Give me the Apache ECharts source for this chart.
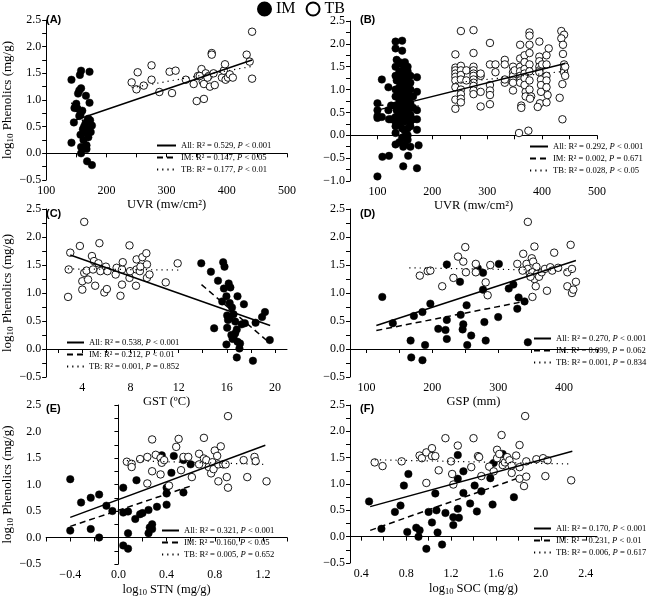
<!DOCTYPE html>
<html><head><meta charset="utf-8">
<script src="https://cdn.jsdelivr.net/npm/echarts@6/dist/echarts.min.js"></script>
<style>html,body{margin:0;padding:0;background:#fff}#c{width:652px;height:598px}</style>
</head><body><div id="c"></div>
<script>
// ---------------- DATA ----------------
const panelLabels = ['(A)','(B)','(C)','(D)','(E)','(F)'];
const xNames = ['UVR (mw/cm²)','UVR (mw/cm²)','GST (ºC)','GSP (mm)','{n|log}{sub|10}{n| STN (mg/g)}','{n|log}{sub|10}{n| SOC (mg/g)}'];
const yName = '{n|log}{sub|10}{n| Phenolics (mg/g)}';

const xRangeA=[100,500], xTicksA=[100,150,200,250,300,350,400,450,500], xLabelsA=[100,200,300,400,500];
const xRangeB=[50,500],  xTicksB=[50,100,150,200,250,300,350,400,450,500], xLabelsB=[100,200,300,400,500];
const xRangeC=[1,21],    xTicksC=[2,4,6,8,10,12,14,16,18,20], xLabelsC=[4,8,12,16,20];
const xRangeD=[75,450],  xTicksD=[100,150,200,250,300,350,400,450], xLabelsD=[100,200,300,400];
const xRangeE=[-0.6,1.4],xTicksE=[-0.6,-0.4,-0.2,0,0.2,0.4,0.6,0.8,1.0,1.2,1.4], xLabelsE=[-0.4,0,0.4,0.8,1.2];
const xRangeF=[0.3,2.5], xTicksF=[0.4,0.6,0.8,1.0,1.2,1.4,1.6,1.8,2.0,2.2,2.4], xLabelsF=[0.4,0.8,1.2,1.6,2.0,2.4];
const yRangeMain=[-0.5,2.5], yTicksMain=[-0.5,-0.25,0,0.25,0.5,0.75,1,1.25,1.5,1.75,2,2.25,2.5], yLabelsMain=[-0.5,0,0.5,1,1.5,2,2.5];
const yRangeB=[-1,2.5], yTicksB=[-1,-0.75,-0.5,-0.25,0,0.25,0.5,0.75,1,1.25,1.5,1.75,2,2.25,2.5], yLabelsB=[-1,-0.5,0,0.5,1,1.5,2,2.5];

const imA=[[142,1.38],[158,1.55],[156,1.47],[172,1.53],[158,1.22],[155,1.18],[153,1.12],[166,1.08],[150,0.93],[172,0.95],[147,0.85],[152,0.84],[160,0.8],[157,0.73],[146,0.58],[170,0.65],[168,0.6],[173,0.62],[163,0.5],[176,0.52],[161,0.45],[168,0.45],[166,0.38],[157,0.35],[174,0.4],[162,0.25],[170,0.3],[158,0.12],[167,0.15],[167,0.08],[158,0.0],[168,-0.15],[176,-0.22],[142,0.2],[165,0.55],[155,0.7]];
const tbA=[[242,1.33],[250,1.2],[252,1.52],[262,1.27],[275,1.65],[275,1.38],[288,1.15],[305,1.53],[309,1.13],[315,1.55],[332,1.38],[345,1.3],[350,0.98],[352,1.45],[358,1.58],[360,1.35],[362,1.3],[362,1.02],[365,1.5],[370,1.45],[372,1.25],[375,1.88],[375,1.85],[378,1.5],[380,1.28],[392,1.42],[395,1.55],[397,1.67],[398,1.38],[402,1.42],[405,1.48],[410,1.42],[433,1.85],[438,1.72],[442,2.28],[442,1.4],[355,1.45],[368,1.42]];
const fitAllA=[[143,0.6],[442,1.75]], fitImA=[[142,0.95],[177,0.32]], fitTbA=[[242,1.23],[442,1.63]];
const r2A=['0.529','0.147','0.177'], pA=['< 0.001','< 0.05','< 0.01'];

const imB=[[100,0.7],[100,0.55],[100,0.42],[100,0.38],[100,-0.9],[108,1.22],[108,0.4],[109,-0.47],[120,1.05],[121,0.35],[121,-0.45],[120,0.55],[125,0.65],[125,0.35],
[133,2.05],[133,1.9],[135,1.65],[133,1.5],[133,1.3],[135,1.2],[133,1.0],[133,0.85],[133,0.65],[135,0.55],[133,0.4],[133,0.2],[133,0.05],[133,-0.2],[133,0.3],
[140,1.6],[140,1.4],[140,1.25],[140,1.05],[140,0.9],[140,0.75],[140,0.6],[140,0.45],[140,0.25],[140,-0.15],[142,1.15],[142,0.8],
[145,2.07],[145,1.85],[145,1.55],[145,1.3],[145,1.2],[145,1.0],[145,0.85],[145,0.7],[145,0.5],[145,0.38],[145,0.15],[145,-0.05],[147,-0.68],[147,-0.25],[148,0.6],[148,0.95],
[150,1.6],[150,1.45],[150,1.35],[150,1.2],[150,1.1],[150,0.95],[150,0.85],[150,0.75],[150,0.65],[150,0.55],[150,0.45],[150,0.3],[150,0.1],[150,-0.2],
[155,1.5],[155,1.4],[155,1.25],[155,1.1],[155,0.95],[155,0.8],[155,0.7],[155,0.6],[155,0.5],[155,0.4],[155,0.15],[155,-0.1],[156,-0.45],[155,0.0],
[160,1.3],[160,1.15],[160,1.0],[160,0.85],[160,0.7],[160,0.6],[160,0.45],[160,0.3],[160,0.2],[160,-0.25],
[165,0.85],[165,0.6],[165,0.35],[172,1.27],[172,0.95],[172,0.55],[172,0.35],[172,0.12],[175,-0.22],[172,-0.72]];
const tbB=[[242,1.77],[242,1.48],[242,1.42],[242,1.35],[242,1.28],[242,1.2],[242,1.05],[242,0.78],[242,0.58],
[252,2.28],[252,1.52],[252,1.42],[252,1.32],[252,1.22],[252,1.0],[252,0.9],[252,0.8],[252,0.72],[262,1.42],[262,1.2],
[275,2.3],[275,1.8],[275,1.5],[275,1.42],[275,1.35],[275,1.3],[275,1.22],[275,1.15],[275,1.08],[275,0.98],[275,0.9],
[288,1.3],[288,1.35],[288,0.63],[288,0.95],[305,2.02],[305,1.55],[305,1.1],[305,0.98],[305,0.88],[305,0.68],[315,1.55],[315,1.38],
[332,1.65],[332,1.55],[332,1.15],[332,1.22],[347,1.5],[347,1.38],[347,1.3],[347,1.2],[347,1.15],[347,0.98],[350,1.42],
[360,1.98],[360,1.68],[360,1.5],[360,1.4],[360,1.3],[360,1.2],[360,1.15],[362,0.65],[362,0.6],[358,0.05],
[368,1.75],[368,1.6],[368,1.45],[368,1.35],[368,1.25],[370,0.95],[370,0.85],[368,1.1],
[377,2.25],[377,2.18],[377,1.98],[377,1.8],[377,1.55],[377,1.4],[377,1.2],[377,1.0],[380,0.85],[378,0.8],[375,0.1],
[395,2.05],[395,1.72],[395,1.62],[395,1.5],[395,1.42],[395,1.38],[398,1.22],[398,1.1],[398,0.95],[396,0.7],[392,0.62],[400,1.55],
[408,1.75],[408,1.55],[408,1.3],[408,1.2],[408,1.05],[410,0.88],[408,0.72],[412,1.9],
[435,2.28],[440,2.2],[435,2.12],[438,1.98],[438,1.78],[440,1.55],[440,1.45],[440,1.38],[442,1.3],[437,1.12],[432,0.82],[437,0.35],[442,1.5]];
const fitAllB=[[100,0.55],[442,1.57]], fitImB=[[100,0.66],[175,0.64]], fitTbB=[[242,1.15],[442,1.4]];
const r2B=['0.292','0.002','0.028'], pB=['< 0.001','= 0.671','< 0.05'];

const tbC=[[2.82,0.93],[2.87,1.42],[3.0,1.72],[3.8,1.84],[4.16,2.27],[4.0,1.06],[4.0,1.21],[4.16,1.36],[4.35,1.4],[4.48,1.24],[4.8,1.66],[4.89,1.42],[4.97,1.57],[5.07,1.13],[5.34,1.53],[5.42,1.89],[5.5,1.39],[5.83,1.01],[5.96,1.47],[6.04,1.07],[6.09,1.39],[6.77,1.33],[6.85,1.45],[7.17,0.95],[7.3,1.15],[7.3,1.42],[7.36,1.55],[7.92,1.85],[7.92,1.27],[7.97,1.39],[8.46,1.13],[8.51,1.6],[8.51,1.42],[8.78,1.39],[8.83,1.47],[8.99,1.64],[9.32,1.71],[9.37,1.51],[9.37,1.27],[9.58,1.33],[10.93,1.19],[11.92,1.53]];
const imC=[[13.88,1.53],[14.68,1.38],[14.95,0.37],[15.27,1.22],[15.62,0.85],[15.76,1.08],[15.7,1.55],[15.81,1.47],[16.16,1.17],[16.3,1.1],[15.97,0.94],[16.89,0.94],[16.24,0.82],[16.43,0.74],[16.03,0.6],[16.1,0.52],[16.2,0.55],[16.56,0.62],[17.42,0.8],[16.7,0.49],[16.83,0.35],[16.03,0.38],[15.97,0.08],[16.56,0.22],[16.7,0.28],[16.89,0.13],[17.1,0.1],[17.05,0.01],[16.83,-0.15],[18.17,-0.21],[17.24,0.44],[17.5,0.46],[18.39,0.47],[18.93,0.57],[19.17,0.66],[19.57,0.16],[16.48,0.18],[16.38,0.25]];
const fitAllC=[[3.0,1.68],[19.6,0.42]], fitImC=[[13.9,1.15],[19.6,0.1]], fitTbC=[[2.8,1.43],[12.0,1.41]];
const r2C=['0.538','0.212','0.001'], pC=['< 0.001','< 0.01','= 0.852'];

const imD=[[124,0.93],[140,0.46],[172,0.59],[185,0.66],[197,0.81],[167,0.15],[168,-0.15],[185,-0.2],[189,0.07],[209,0.36],[220,0.34],[222,0.52],[222,1.51],[222,0.18],[242,1.2],[243,0.61],[247,0.44],[246,0.35],[252,0.78],[253,0.07],[259,0.24],[269,1.44],[277,1.36],[277,1.06],[279,0.48],[281,0.15],[300,0.57],[301,1.52],[316,1.08],[323,1.15],[329,0.72],[331,0.92],[340,0.85],[345,0.12]];
const tbD=[[181,1.31],[193,1.39],[197,1.4],[215,1.12],[232,1.27],[239,1.65],[247,1.56],[250,1.82],[251,1.37],[266,1.52],[266,1.37],[281,1.19],[284,0.96],[288,1.5],[338,1.7],[329,1.52],[345,2.27],[343,1.52],[345,1.43],[348,1.34],[351,1.62],[353,1.56],[355,1.83],[358,1.47],[352,1.37],[352,0.93],[355,1.25],[357,1.12],[359,1.34],[362,1.29],[366,1.37],[371,1.43],[374,1.04],[379,1.46],[382,1.4],[385,1.72],[391,1.45],[405,1.12],[405,1.37],[410,1.86],[412,1.0],[414,1.06],[412,1.43],[418,1.2],[337,1.4],[349,1.29]];
const fitAllD=[[115,0.42],[418,1.58]], fitImD=[[115,0.33],[340,0.85]], fitTbD=[[165,1.45],[415,1.4]];
const r2D=['0.270','0.099','0.001'], pD=['< 0.001','= 0.062','= 0.834'];

const imE=[[-0.4,1.1],[-0.4,0.13],[-0.31,0.66],[-0.23,0.75],[-0.23,0.16],[-0.16,0.81],[-0.16,0.0],[-0.1,0.6],[-0.05,0.5],[0.04,0.94],[0.04,-0.15],[0.04,0.47],[0.08,-0.21],[0.08,0.08],[0.08,0.49],[0.14,0.35],[0.15,1.08],[0.18,0.44],[0.2,0.46],[0.25,0.52],[0.25,0.08],[0.26,0.19],[0.28,0.25],[0.28,0.16],[0.32,0.58],[0.36,1.55],[0.4,0.94],[0.4,0.83],[0.4,0.62],[0.44,1.22],[0.46,1.54],[0.54,1.46],[0.54,0.85],[0.6,1.38]];
const tbE=[[0.07,1.43],[0.11,1.39],[0.11,1.33],[0.18,1.48],[0.24,1.02],[0.24,1.52],[0.28,1.85],[0.28,1.25],[0.31,1.56],[0.35,1.5],[0.35,1.19],[0.36,1.41],[0.38,1.46],[0.42,0.98],[0.48,1.71],[0.5,1.86],[0.52,1.27],[0.54,1.52],[0.58,1.52],[0.61,1.14],[0.67,1.58],[0.67,1.38],[0.71,1.88],[0.71,1.49],[0.73,1.46],[0.75,1.33],[0.77,1.21],[0.78,1.42],[0.79,1.29],[0.8,1.64],[0.82,1.54],[0.83,1.38],[0.83,1.06],[0.85,1.72],[0.87,1.38],[0.89,1.38],[0.9,1.14],[0.91,0.94],[0.91,2.29],[1.04,1.46],[1.07,1.14],[1.13,1.52],[1.14,1.44],[1.23,1.06]];
const fitAllE=[[-0.4,0.38],[1.22,1.74]], fitImE=[[-0.4,0.21],[0.6,0.97]], fitTbE=[[0.07,1.45],[1.22,1.38]];
const r2E=['0.321','0.160','0.005'], pE=['< 0.001','< 0.05','= 0.652'];

const imF=[[0.47,0.67],[0.58,0.15],[0.7,0.47],[0.75,0.59],[0.82,1.19],[0.78,0.97],[0.81,0.09],[0.89,0.17],[0.91,0.0],[0.92,0.12],[0.98,-0.23],[1.0,0.47],[1.03,0.27],[1.06,0.82],[1.07,0.5],[1.08,0.08],[1.12,-0.15],[1.15,0.45],[1.22,0.37],[1.22,0.22],[1.26,0.53],[1.26,1.55],[1.26,1.1],[1.27,0.36],[1.31,0.83],[1.31,1.24],[1.37,0.63],[1.41,0.97],[1.43,0.48],[1.47,0.86],[1.55,1.11],[1.57,0.61],[1.58,1.4],[1.66,1.57],[1.76,0.75]];
const tbF=[[0.52,1.41],[0.59,1.34],[0.76,1.43],[0.92,1.54],[0.94,1.49],[0.98,1.6],[0.98,1.02],[1.03,1.68],[1.03,1.53],[1.06,1.53],[1.09,1.26],[1.15,1.87],[1.2,1.43],[1.21,1.19],[1.22,0.99],[1.26,1.73],[1.38,1.32],[1.4,1.87],[1.44,1.53],[1.45,1.51],[1.47,1.15],[1.54,1.33],[1.61,1.65],[1.61,1.49],[1.63,1.57],[1.65,1.93],[1.66,1.36],[1.68,1.41],[1.7,1.51],[1.72,1.45],[1.74,1.35],[1.74,1.21],[1.78,1.54],[1.81,1.74],[1.81,1.32],[1.81,1.1],[1.85,0.96],[1.86,2.29],[1.87,1.43],[1.87,1.14],[1.96,1.47],[2.02,1.49],[2.04,1.15],[2.06,1.45],[2.27,1.07],[1.58,1.24]];
const fitAllF=[[0.48,0.57],[2.28,1.62]], fitImF=[[0.48,0.12],[1.78,1.1]], fitTbF=[[0.52,1.46],[2.28,1.38]];
const r2F=['0.170','0.231','0.006'], pF=['< 0.001','< 0.01','= 0.617'];

const groupNames=['All','IM','TB'];

// ---------------- LAYOUT ----------------
const SERIF='Liberation Serif', SANS='Liberation Sans';
const grids=[
 {left:41,top:20,width:246,height:160},
 {left:350,top:21,width:247,height:160},
 {left:41,top:209,width:246,height:168},
 {left:350,top:209,width:247,height:168},
 {left:41,top:405,width:246,height:159},
 {left:350,top:405,width:247,height:158}
];
const legendPos=[[156,141,19],[529,142,18],[66,338,17],[533,334,17],[161,526,17],[533,524,17]];
const titlePos=[[46,14],[360,14],[46,208],[360,208],[46,403],[360,403]];

const P=[
 {im:imA,tb:tbA,fit:[fitAllA,fitImA,fitTbA],r2:r2A,p:pA,xr:xRangeA,xt:xTicksA,xl:xLabelsA,yr:yRangeMain,yt:yTicksMain,yl:yLabelsMain},
 {im:imB,tb:tbB,fit:[fitAllB,fitImB,fitTbB],r2:r2B,p:pB,xr:xRangeB,xt:xTicksB,xl:xLabelsB,yr:yRangeB,yt:yTicksB,yl:yLabelsB},
 {im:imC,tb:tbC,fit:[fitAllC,fitImC,fitTbC],r2:r2C,p:pC,xr:xRangeC,xt:xTicksC,xl:xLabelsC,yr:yRangeMain,yt:yTicksMain,yl:yLabelsMain},
 {im:imD,tb:tbD,fit:[fitAllD,fitImD,fitTbD],r2:r2D,p:pD,xr:xRangeD,xt:xTicksD,xl:xLabelsD,yr:yRangeMain,yt:yTicksMain,yl:yLabelsMain},
 {im:imE,tb:tbE,fit:[fitAllE,fitImE,fitTbE],r2:r2E,p:pE,xr:xRangeE,xt:xTicksE,xl:xLabelsE,yr:yRangeMain,yt:yTicksMain,yl:yLabelsMain},
 {im:imF,tb:tbF,fit:[fitAllF,fitImF,fitTbF],r2:r2F,p:pF,xr:xRangeF,xt:xTicksF,xl:xLabelsF,yr:yRangeMain,yt:yTicksMain,yl:yLabelsMain}
];

function fmtNum(v,dec){const s=Math.abs(v).toFixed(dec);return v<-1e-9?'\u2212'+s:s;}
const xDec=[0,0,0,0,1,1];
const lineTypes=[{type:'solid',width:1.5},{type:[6,4],width:1.5},{type:[1.2,4],width:1.2}];

const option={animation:false,backgroundColor:'#fff',grid:grids,xAxis:[],yAxis:[],series:[],legend:[],title:[]};
option.legend.push({data:['IM','TB'],left:257,top:1,itemWidth:13,itemHeight:13,itemGap:10,padding:0,selectedMode:false,
  textStyle:{fontFamily:SERIF,fontSize:16,color:'#000'}});

P.forEach((p,i)=>{
  const left = (i%2===0);
  option.xAxis.push({type:'value',gridIndex:i,min:p.xr[0],max:p.xr[1],
    axisLine:{show:true,lineStyle:{color:'#000',width:1}},splitLine:{show:false},
    axisTick:{show:true,customValues:p.xt,length:4,lineStyle:{color:'#000'}},
    axisLabel:{customValues:p.xl,color:'#000',fontFamily:SERIF,fontSize:12,margin:5,formatter:v=>fmtNum(v,xDec[i])},
    name:xNames[i],nameLocation:'middle',nameGap:18,
    nameTextStyle:{color:'#000',fontFamily:SERIF,fontSize:12.5,verticalAlign:'top',
      rich:{n:{fontFamily:SERIF,fontSize:12.5,lineHeight:15,color:'#000'},sub:{fontFamily:SERIF,fontSize:8.5,lineHeight:8,verticalAlign:'bottom',color:'#000'}}}
  });
  const ya={type:'value',gridIndex:i,min:p.yr[0],max:p.yr[1],
    axisLine:{show:true,lineStyle:{color:'#000',width:1}},splitLine:{show:false},
    axisTick:{show:true,customValues:p.yt,length:4,lineStyle:{color:'#000'}},
    axisLabel:{customValues:p.yl,color:'#000',fontFamily:SERIF,fontSize:12,margin:5,formatter:v=>fmtNum(v,1)}};
  if(left){
    ya.name=yName; ya.nameLocation='middle'; ya.nameGap=23; ya.nameRotate=90;
    ya.nameTextStyle={color:'#000',fontFamily:SERIF,fontSize:13,
      rich:{n:{fontFamily:SERIF,fontSize:13,lineHeight:16,color:'#000'},sub:{fontFamily:SERIF,fontSize:9,lineHeight:9,verticalAlign:'bottom',color:'#000'}}};
  }
  option.yAxis.push(ya);
  option.series.push({type:'scatter',name:'IM',xAxisIndex:i,yAxisIndex:i,data:p.im,symbol:'circle',symbolSize:7.5,
    itemStyle:{color:'#000',borderColor:'#000',borderWidth:0.5,opacity:1},z:2});
  option.series.push({type:'scatter',name:'TB',xAxisIndex:i,yAxisIndex:i,data:p.tb,symbol:'circle',symbolSize:7.5,
    itemStyle:{color:'#fff',borderColor:'#000',borderWidth:0.9,opacity:1},z:2});
  const names=[];
  p.fit.forEach((f,k)=>{
    const nm=panelLabels[i]+' '+groupNames[k];
    names.push(nm);
    option.series.push({type:'line',name:nm,xAxisIndex:i,yAxisIndex:i,data:f,symbol:'none',silent:true,
      itemStyle:{color:'#000'},lineStyle:Object.assign({color:'#000'},lineTypes[k]),z:3});
  });
  option.legend.push({data:names,orient:'vertical',left:legendPos[i][0],top:legendPos[i][1],itemWidth:legendPos[i][2],itemHeight:10,itemGap:3,padding:0,selectedMode:false,
    itemStyle:{opacity:0,color:'rgba(0,0,0,0)',borderWidth:0},
    textStyle:{fontFamily:SERIF,fontSize:8.6,color:'#000',rich:{t:{fontFamily:SERIF,fontSize:8.6,color:'#000'},it:{fontFamily:SERIF,fontSize:8.6,fontStyle:'italic',color:'#000'}}},
    formatter:(name)=>{const k=names.indexOf(name);return '{t|'+groupNames[k]+': R² = '+p.r2[k]+', }{it|P}{t| '+p.p[k]+'}';}
  });
  option.title.push({text:panelLabels[i],left:titlePos[i][0],top:titlePos[i][1],padding:0,
    textStyle:{fontFamily:SANS,fontWeight:'bold',fontSize:11,color:'#000'}});
});

const chart=echarts.init(document.getElementById('c'),null,{renderer:'canvas'});
chart.setOption(option);
</script></body></html>
